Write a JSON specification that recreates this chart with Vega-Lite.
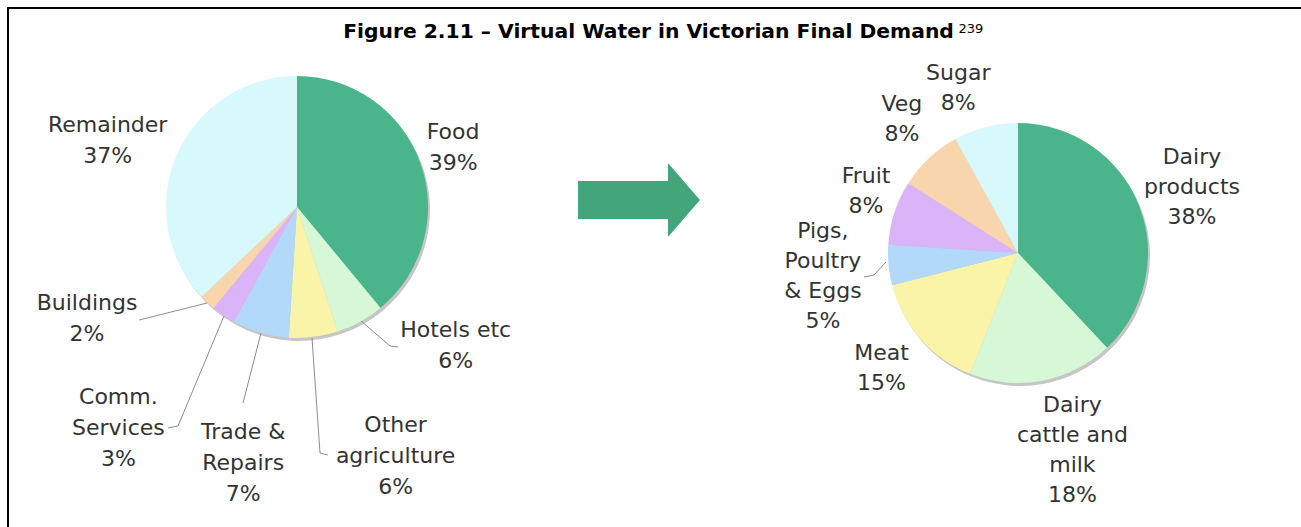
{
  "$schema": "https://vega.github.io/schema/vega-lite/v6.json",
  "width": 1323,
  "height": 549,
  "autosize": {"type": "none"},
  "padding": {"left": 8, "top": 8, "right": -30, "bottom": -30},
  "background": "white",
  "config": {"view": {"stroke": "#000000", "strokeWidth": 2}},
  "data": {
    "values": [
      {"pie": "Total", "cat": "Food", "value": 39, "ord": 1, "label": "Food\n39%"},
      {"pie": "Total", "cat": "Hotels etc", "value": 6, "ord": 2, "label": "Hotels etc\n6%"},
      {"pie": "Total", "cat": "Other agriculture", "value": 6, "ord": 3, "label": "Other\nagriculture\n6%"},
      {"pie": "Total", "cat": "Trade & Repairs", "value": 7, "ord": 4, "label": "Trade &\nRepairs\n7%"},
      {"pie": "Total", "cat": "Comm. Services", "value": 3, "ord": 5, "label": "Comm.\nServices\n3%"},
      {"pie": "Total", "cat": "Buildings", "value": 2, "ord": 6, "label": "Buildings\n2%"},
      {"pie": "Total", "cat": "Remainder", "value": 37, "ord": 7, "label": "Remainder\n37%"},
      {"pie": "Food", "cat": "Dairy products", "value": 38, "ord": 1, "label": "Dairy\nproducts\n38%"},
      {"pie": "Food", "cat": "Dairy cattle and milk", "value": 18, "ord": 2, "label": "Dairy\ncattle and\nmilk\n18%"},
      {"pie": "Food", "cat": "Meat", "value": 15, "ord": 3, "label": "Meat\n15%"},
      {"pie": "Food", "cat": "Pigs, Poultry & Eggs", "value": 5, "ord": 4, "label": "Pigs,\nPoultry\n& Eggs\n5%"},
      {"pie": "Food", "cat": "Fruit", "value": 8, "ord": 5, "label": "Fruit\n8%"},
      {"pie": "Food", "cat": "Veg", "value": 8, "ord": 6, "label": "Veg\n8%"},
      {"pie": "Food", "cat": "Sugar", "value": 8, "ord": 7, "label": "Sugar\n8%"}
    ]
  },
  "encoding": {
    "x": {"field": "pie", "type": "nominal", "axis": null, "scale": {"type": "point", "domain": ["Total", "→", "Food"], "range": [289, 1010], "padding": 0}},
    "y": {"field": "pie", "type": "nominal", "axis": null, "scale": {"type": "point", "domain": ["Total", "→", "Food"], "range": [199, 245], "padding": 0}}
  },
  "layer": [
    {
      "transform": [{"filter": "datum.pie == 'Total'"}],
      "encoding": {
        "theta": {"field": "value", "type": "quantitative", "stack": true, "scale": {"domain": [0, 100]}},
        "order": {"field": "ord", "type": "quantitative"},
        "detail": {"field": "cat", "type": "nominal"}
      },
      "layer": [
        {"mark": {"type": "arc", "outerRadius": 131, "color": "#c6c6c6", "xOffset": 2, "yOffset": 3}},
        {
          "mark": {"type": "arc", "outerRadius": 131},
          "encoding": {
            "color": {
              "field": "cat", "type": "nominal", "legend": null,
              "scale": {
                "domain": ["Food", "Hotels etc", "Other agriculture", "Trade & Repairs", "Comm. Services", "Buildings", "Remainder", "Dairy products", "Dairy cattle and milk", "Meat", "Pigs, Poultry & Eggs", "Fruit", "Veg", "Sugar"],
                "range": ["#4ab58a", "#d7f8d7", "#faf4a9", "#b2d8fa", "#dab3f8", "#f9d5ae", "#d8f9fb", "#4ab58a", "#d7f8d7", "#faf4a9", "#b2d8fa", "#dab3f8", "#f9d5ae", "#d8f9fb"]
              }
            }
          }
        },
        {
          "transform": [{"filter": "datum.ord == 1"}],
          "mark": {"type": "point", "shape": "M64,114L93,139L101,140M15,131L23,246L31,248M-36,126L-54,196M-73,109L-119,219L-129,221M-90,96L-158,113", "size": 4, "filled": false, "color": "#8c8c8c", "strokeWidth": 1, "opacity": 1}
        },
        {"mark": {"type": "text", "radius": 167, "dx": -1, "dy": -18.5, "lineBreak": "\n", "lineHeight": 31, "align": "center", "baseline": "middle", "font": "DejaVu Sans", "fontSize": 22, "color": "#333333"},
         "encoding": {"text": {"condition": {"test": "datum.cat == 'Food'", "field": "label", "type": "nominal"}, "value": ""}}},
        {"mark": {"type": "text", "radius": 211, "dx": 57, "dy": -61.5, "lineBreak": "\n", "lineHeight": 31, "align": "center", "baseline": "middle", "font": "DejaVu Sans", "fontSize": 22, "color": "#333333"},
         "encoding": {"text": {"condition": {"test": "datum.cat == 'Hotels etc'", "field": "label", "type": "nominal"}, "value": ""}}},
        {"mark": {"type": "text", "radius": 268, "dx": 65, "dy": -48, "lineBreak": "\n", "lineHeight": 31, "align": "center", "baseline": "middle", "font": "DejaVu Sans", "fontSize": 22, "color": "#333333"},
         "encoding": {"text": {"condition": {"test": "datum.cat == 'Other agriculture'", "field": "label", "type": "nominal"}, "value": ""}}},
        {"mark": {"type": "text", "radius": 261, "dx": 19, "dy": -26, "lineBreak": "\n", "lineHeight": 31, "align": "center", "baseline": "middle", "font": "DejaVu Sans", "fontSize": 22, "color": "#333333"},
         "encoding": {"text": {"condition": {"test": "datum.cat == 'Trade & Repairs'", "field": "label", "type": "nominal"}, "value": ""}}},
        {"mark": {"type": "text", "radius": 284, "dx": -19, "dy": -45, "lineBreak": "\n", "lineHeight": 31, "align": "center", "baseline": "middle", "font": "DejaVu Sans", "fontSize": 22, "color": "#333333"},
         "encoding": {"text": {"condition": {"test": "datum.cat == 'Comm. Services'", "field": "label", "type": "nominal"}, "value": ""}}},
        {"mark": {"type": "text", "radius": 238, "dx": -47, "dy": -77.5, "lineBreak": "\n", "lineHeight": 31, "align": "center", "baseline": "middle", "font": "DejaVu Sans", "fontSize": 22, "color": "#333333"},
         "encoding": {"text": {"condition": {"test": "datum.cat == 'Buildings'", "field": "label", "type": "nominal"}, "value": ""}}},
        {"mark": {"type": "text", "radius": 203, "dx": -3, "dy": -1.5, "lineBreak": "\n", "lineHeight": 31, "align": "center", "baseline": "middle", "font": "DejaVu Sans", "fontSize": 22, "color": "#333333"},
         "encoding": {"text": {"condition": {"test": "datum.cat == 'Remainder'", "field": "label", "type": "nominal"}, "value": ""}}}
      ]
    },
    {
      "transform": [{"filter": "datum.pie == 'Food'"}],
      "encoding": {
        "theta": {"field": "value", "type": "quantitative", "stack": true, "scale": {"domain": [0, 100]}},
        "order": {"field": "ord", "type": "quantitative"},
        "detail": {"field": "cat", "type": "nominal"}
      },
      "layer": [
        {"mark": {"type": "arc", "outerRadius": 130, "color": "#c6c6c6", "xOffset": 2, "yOffset": 3}},
        {
          "mark": {"type": "arc", "outerRadius": 130},
          "encoding": {"color": {"field": "cat", "type": "nominal", "legend": null}}
        },
        {
          "transform": [{"filter": "datum.ord == 1"}],
          "mark": {"type": "point", "shape": "M-132,9L-144,22L-154,24", "size": 4, "filled": false, "color": "#8c8c8c", "strokeWidth": 1, "opacity": 1}
        },
        {"mark": {"type": "text", "radius": 186, "dx": 1, "dy": -28, "lineBreak": "\n", "lineHeight": 30, "align": "center", "baseline": "middle", "font": "DejaVu Sans", "fontSize": 22, "color": "#333333"},
         "encoding": {"text": {"condition": {"test": "datum.cat == 'Dairy products'", "field": "label", "type": "nominal"}, "value": ""}}},
        {"mark": {"type": "text", "radius": 205, "dx": 16, "dy": -49, "lineBreak": "\n", "lineHeight": 30, "align": "center", "baseline": "middle", "font": "DejaVu Sans", "fontSize": 22, "color": "#333333"},
         "encoding": {"text": {"condition": {"test": "datum.cat == 'Dairy cattle and milk'", "field": "label", "type": "nominal"}, "value": ""}}},
        {"mark": {"type": "text", "radius": 178, "dx": -3, "dy": -18, "lineBreak": "\n", "lineHeight": 30, "align": "center", "baseline": "middle", "font": "DejaVu Sans", "fontSize": 22, "color": "#333333"},
         "encoding": {"text": {"condition": {"test": "datum.cat == 'Meat'", "field": "label", "type": "nominal"}, "value": ""}}},
        {"mark": {"type": "text", "radius": 196, "dx": 0, "dy": -40, "lineBreak": "\n", "lineHeight": 30, "align": "center", "baseline": "middle", "font": "DejaVu Sans", "fontSize": 22, "color": "#333333"},
         "encoding": {"text": {"condition": {"test": "datum.cat == 'Pigs, Poultry & Eggs'", "field": "label", "type": "nominal"}, "value": ""}}},
        {"mark": {"type": "text", "radius": 164, "dx": 4, "dy": -26, "lineBreak": "\n", "lineHeight": 30, "align": "center", "baseline": "middle", "font": "DejaVu Sans", "fontSize": 22, "color": "#333333"},
         "encoding": {"text": {"condition": {"test": "datum.cat == 'Fruit'", "field": "label", "type": "nominal"}, "value": ""}}},
        {"mark": {"type": "text", "radius": 177, "dx": 5, "dy": -20, "lineBreak": "\n", "lineHeight": 30, "align": "center", "baseline": "middle", "font": "DejaVu Sans", "fontSize": 22, "color": "#333333"},
         "encoding": {"text": {"condition": {"test": "datum.cat == 'Veg'", "field": "label", "type": "nominal"}, "value": ""}}},
        {"mark": {"type": "text", "radius": 176, "dx": -16, "dy": -10, "lineBreak": "\n", "lineHeight": 30, "align": "center", "baseline": "middle", "font": "DejaVu Sans", "fontSize": 22, "color": "#333333"},
         "encoding": {"text": {"condition": {"test": "datum.cat == 'Sugar'", "field": "label", "type": "nominal"}, "value": ""}}}
      ]
    },
    {
      "data": {"values": [{"pie": "→", "t": "Figure 2.11 – Virtual Water in Victorian Final Demand", "sup": "239"}]},
      "layer": [
        {"mark": {"type": "point", "shape": "M-1,-0.311L0.475,-0.311L0.475,-0.607L1,0L0.475,0.607L0.475,0.311L-1,0.311Z", "size": 14884, "filled": true, "color": "#43a67b", "opacity": 1, "strokeWidth": 0, "xOffset": -18.5, "yOffset": -30}},
        {"mark": {"type": "text", "align": "center", "baseline": "alphabetic", "dx": -9, "dy": -192, "font": "DejaVu Sans", "fontSize": 20.3, "fontWeight": "bold", "color": "#000000"},
         "encoding": {"text": {"field": "t", "type": "nominal"}}},
        {"mark": {"type": "text", "align": "left", "baseline": "alphabetic", "dx": 301, "dy": -197, "font": "DejaVu Sans", "fontSize": 13, "color": "#000000"},
         "encoding": {"text": {"field": "sup", "type": "nominal"}}}
      ]
    }
  ]
}
